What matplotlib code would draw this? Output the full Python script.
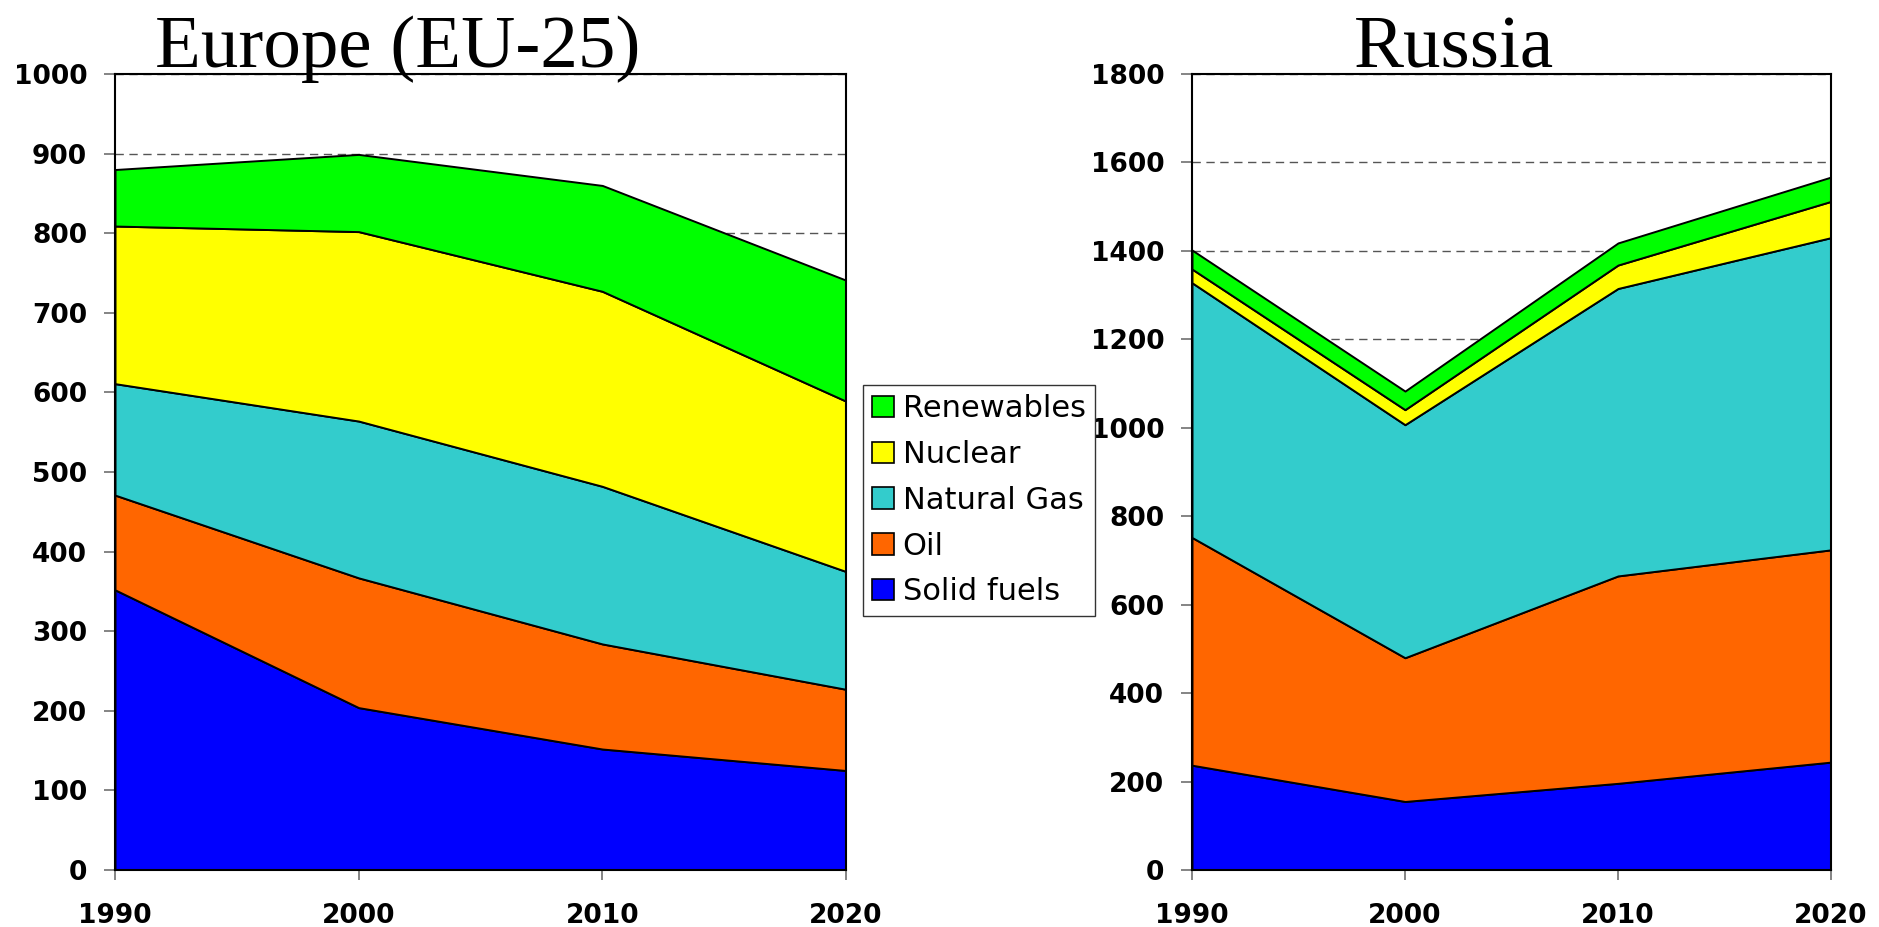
import matplotlib.pyplot as plt
import matplotlib as mpl
from matplotlib.patches import Patch

mpl.rcParams['font.family'] = 'DejaVu Sans'

years = [1990, 2000, 2010, 2020]
fuel_names = ['Solid fuels', 'Oil', 'Natural Gas', 'Nuclear', 'Renewables']
fuel_colors = ['#0000FF', '#FF6600', '#33CCCC', '#FFFF00', '#00FF00']

# Europe (EU-25), values per fuel
eu_solid = [352, 204, 152, 125]
eu_oil = [119, 163, 132, 102]
eu_gas = [140, 197, 198, 148]
eu_nuclear = [198, 238, 245, 214]
eu_renew = [71, 97, 133, 152]

# Russia, values per fuel
ru_solid = [237, 155, 196, 244]
ru_oil = [515, 325, 469, 480]
ru_gas = [576, 527, 650, 706]
ru_nuclear = [31, 34, 53, 82]
ru_renew = [43, 42, 50, 55]

eu_ticks = [0, 100, 200, 300, 400, 500, 600, 700, 800, 900, 1000]
ru_ticks = [0, 200, 400, 600, 800, 1000, 1200, 1400, 1600, 1800]

W, H = 1879, 927
fig = plt.figure(figsize=(W / 100, H / 100), dpi=100)

ax1 = fig.add_axes([115 / W, 1 - 870 / H, 731 / W, 796 / H])
ax2 = fig.add_axes([1192 / W, 1 - 870 / H, 639 / W, 796 / H])


def draw_panel(ax, series, ticks):
    ax.stackplot(years, *series, colors=fuel_colors, edgecolor='black',
                 linewidth=1.4, zorder=2)
    ax.set_xlim(years[0], years[-1])
    ax.set_ylim(ticks[0], ticks[-1])
    ax.set_xticks(years)
    ax.set_yticks(ticks)
    ax.yaxis.grid(True, color='#555555', linestyle=(0, (6, 4)), linewidth=1.0, zorder=0)
    ax.set_axisbelow(True)
    for sp in ax.spines.values():
        sp.set_linewidth(1.5)
        sp.set_color('black')
        sp.set_zorder(3)
    ax.tick_params(axis='both', direction='out', color='#707070', width=1.2,
                   labelsize=19)
    ax.tick_params(axis='y', length=8, pad=12)
    ax.tick_params(axis='x', length=7, pad=17)
    for lbl in ax.get_xticklabels() + ax.get_yticklabels():
        lbl.set_fontweight('bold')


draw_panel(ax1, [eu_solid, eu_oil, eu_gas, eu_nuclear, eu_renew], eu_ticks)
draw_panel(ax2, [ru_solid, ru_oil, ru_gas, ru_nuclear, ru_renew], ru_ticks)

# titles in serif, placed like the original slide
fig.text(398 / W, 1 - 67 / H, 'Europe (EU-25)', family='Liberation Serif',
         fontsize=54, ha='center', va='baseline')
fig.text(1454 / W, 1 - 67 / H, 'Russia', family='Liberation Serif',
         fontsize=54, ha='center', va='baseline')

handles = [Patch(facecolor=c, edgecolor='black', linewidth=1.2) for c in fuel_colors]
leg = fig.legend(handles[::-1], fuel_names[::-1], loc='upper left',
                 bbox_to_anchor=(863 / W, 1 - 385 / H), fontsize=22,
                 frameon=True, fancybox=False, framealpha=1, edgecolor='#333333',
                 handlelength=0.7, handleheight=0.7, handletextpad=0.3,
                 labelspacing=0.55, borderpad=0.3, borderaxespad=0)
leg.get_frame().set_linewidth(1.0)

fig.savefig('out.png', dpi=100)
